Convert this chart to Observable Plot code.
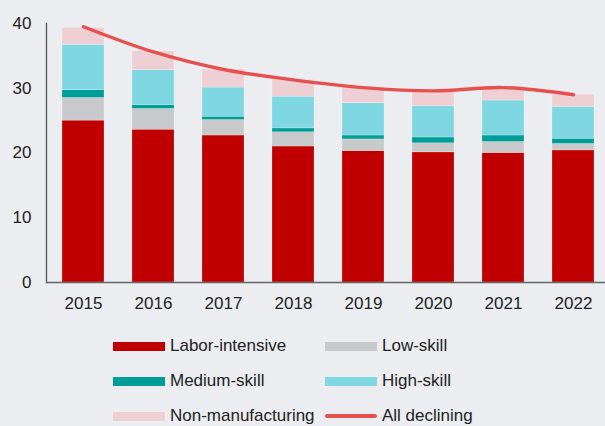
<!DOCTYPE html>
<html>
<head>
<meta charset="utf-8">
<script src="https://cdn.jsdelivr.net/npm/d3@7"></script>
<script src="https://cdn.jsdelivr.net/npm/@observablehq/plot@0.6"></script>
<style>
  html, body { margin: 0; padding: 0; background: #ebedf0; }
  body { width: 605px; height: 426px; overflow: hidden; font-family: "Liberation Sans", Arial, sans-serif; color: #222; position: relative; }
  #chart svg { display: block; background: transparent; }
  .leg { position: absolute; display: flex; align-items: center; font-size: 17px; white-space: nowrap; }
  .sw { width: 52px; height: 9px; margin-right: 5px; }
  .swl { width: 52px; height: 4px; border-radius: 2px; margin-right: 5px; }
</style>
</head>
<body>
<div id="chart"></div>
<div id="legend"></div>
<script>
const years = ["2015","2016","2017","2018","2019","2020","2021","2022"];
const series = ["Labor-intensive","Low-skill","Medium-skill","High-skill","Non-manufacturing"];
const colors = ["#c00000","#c8c9cb","#009c97","#7fd8e1","#eecfd3"];
const yTicks = [0, 10, 20, 30, 40];
const laborIntensive   = [25.0, 23.6, 22.7, 21.0, 20.3, 20.1, 20.0, 20.4];
const lowSkill         = [ 3.5,  3.2,  2.4,  2.2,  1.8,  1.4,  1.7,  1.0];
const mediumSkill      = [ 1.2,  0.6,  0.5,  0.6,  0.6,  0.9,  1.0,  0.8];
const highSkill        = [ 7.0,  5.4,  4.5,  4.9,  5.0,  4.8,  5.4,  4.9];
const nonManufacturing = [ 2.6,  2.9,  2.8,  2.6,  2.4,  2.2,  2.0,  1.9];
const allDeclining     = [39.5, 35.6, 32.9, 31.3, 30.1, 29.6, 30.1, 29.0];
const lineLabel = "All declining";
const lineColor = "#e8504f";

const values = [laborIntensive, lowSkill, mediumSkill, highSkill, nonManufacturing];
const rows = [];
series.forEach((s, i) => years.forEach((y, j) => rows.push({year: y, series: s, value: values[i][j]})));
const lineRows = years.map((y, j) => ({year: y, value: allDeclining[j]}));

const chart = Plot.plot({
  width: 605,
  height: 320,
  marginTop: 23,
  marginBottom: 38,
  marginLeft: 46,
  marginRight: 0,
  style: {fontFamily: "Liberation Sans, Arial, sans-serif", fontSize: "17px", color: "#222", background: "transparent"},
  x: {domain: years, range: [46, 610], paddingInner: 0.4, paddingOuter: 0.2, label: null},
  y: {domain: [0, 40], label: null},
  color: {domain: series, range: colors},
  marks: [
    Plot.barY(rows, {x: "year", y: "value", fill: "series", stroke: "#ffffff", strokeOpacity: 0.35, strokeWidth: 0.6}),
    Plot.line(lineRows, {x: "year", y: "value", stroke: lineColor, strokeWidth: 3.4, curve: "catmull-rom"}),
    Plot.axisY({ticks: yTicks, tickSize: 0, tickPadding: 15, fontSize: 17, label: null}),
    Plot.axisX({tickSize: 0, tickPadding: 14, fontSize: 17, label: null}),
    Plot.frame({anchor: "left", stroke: "#555", strokeWidth: 1.3}),
    Plot.ruleY([0], {stroke: "#666", strokeWidth: 1.5})
  ]
});
document.getElementById("chart").appendChild(chart);

const legend = document.getElementById("legend");
const items = series.map((s, i) => ({label: s, color: colors[i], line: false}));
items.push({label: lineLabel, color: lineColor, line: true});
items.forEach((it, k) => {
  const col = k % 2, row = Math.floor(k / 2);
  const d = document.createElement("div");
  d.className = "leg";
  d.style.left = (col === 0 ? 113 : 325) + "px";
  d.style.top = (346 + row * 35 - 10) + "px";
  d.style.height = "20px";
  const sw = document.createElement("span");
  sw.className = it.line ? "swl" : "sw";
  sw.style.background = it.color;
  const t = document.createElement("span");
  t.textContent = it.label;
  d.appendChild(sw); d.appendChild(t);
  legend.appendChild(d);
});
</script>
</body>
</html>
